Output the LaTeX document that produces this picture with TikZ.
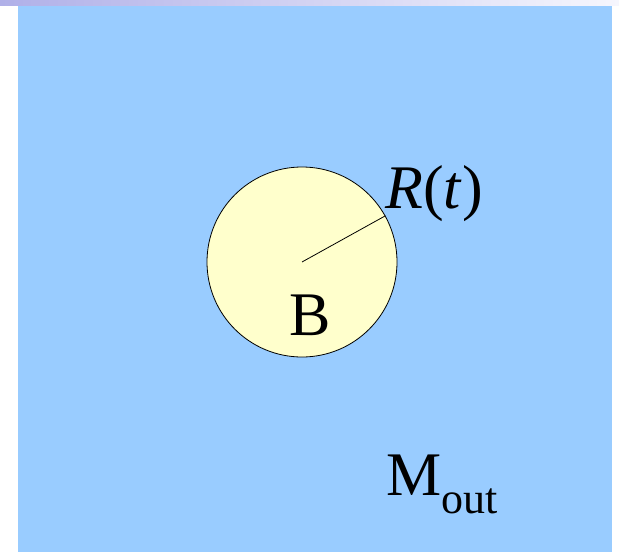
\documentclass[tikz,border=0pt]{standalone}
\usepackage{fontspec}
\setmainfont{LiberationSerif}[Extension=.ttf, UprightFont=*-Regular, ItalicFont=*-Italic, BoldFont=*-Bold, BoldItalicFont=*-BoldItalic]
\definecolor{sea}{HTML}{99CCFF}
\definecolor{pale}{HTML}{FFFFCC}
\definecolor{stripL}{HTML}{B0B0E8}
\definecolor{stripR}{HTML}{F6F6FD}
\tikzset{
  big/.style={inner sep=0pt, font=\fontsize{62}{70}\selectfont},
}
\begin{document}
\begin{tikzpicture}[x=1pt,y=-1pt]
\useasboundingbox (0,0) rectangle (619,554);
\fill[white] (0,0) rectangle (619,554);
\shade[left color=stripL, right color=stripR] (0,0) rectangle (619,5.5);
\fill[sea] (18,6) rectangle (612,552);
\node[circle, draw=black, line width=0.8pt, fill=pale, minimum size=190pt, inner sep=0pt] (ball) at (302,262) {};
\coordinate (ctr) at (302,262);
\draw[line width=0.8pt] (ctr) -- (ball.29);
\node[big, anchor=base west] (rt) at (385,208) {\textit{R}(\textit{t})};
\node[big, anchor=base] (blab) at (310,335) {B};
\node[big, anchor=base west] (mout) at (386,495) {M\raisebox{-18pt}{\fontsize{44}{50}\selectfont out}};
\end{tikzpicture}
\end{document}
